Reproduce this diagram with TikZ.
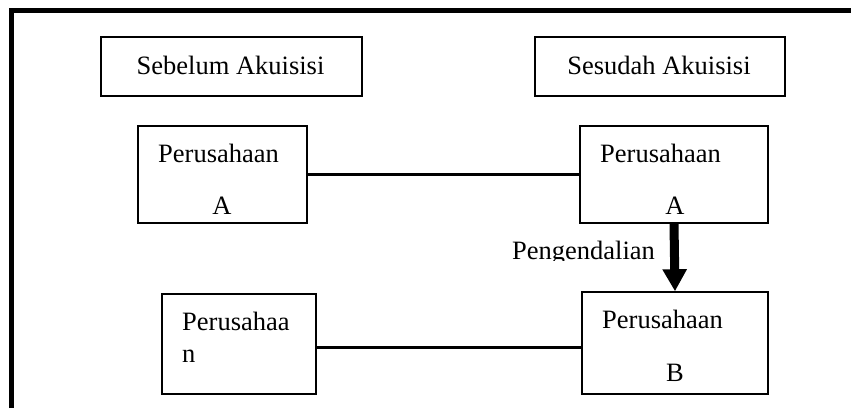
\documentclass[tikz,border=0pt]{standalone}
\usepackage{fontspec}
\setmainfont{Liberation Serif}
\usetikzlibrary{arrows.meta}
\tikzset{
  box/.style={draw=black, line width=1.4pt, inner sep=0pt, minimum width=#1},
  lbl/.style={inner sep=0pt, font=\fontsize{26.5}{30}\selectfont},
  link/.style={line width=3pt},
  frame/.style={line width=5pt}
}
\begin{document}
\begin{tikzpicture}[x=1pt,y=-1pt]
\useasboundingbox[fill=white] (0,0) rectangle (851,408);
% frame
\coordinate (f1) at (11,408);
\coordinate (f2) at (11,10.5);
\coordinate (f3) at (851,10.5);
\draw[frame] (f1) -- (f2) -- (f3);
% header boxes
\node[box=261pt, minimum height=59pt] (seb) at (231.5,66.5) {};
\node[lbl, anchor=base] (sebt) at (230.5,74) {Sebelum Akuisisi};
\node[box=250pt, minimum height=59pt] (ses) at (660,66.5) {};
\node[lbl, anchor=base] (sest) at (659,74) {Sesudah Akuisisi};
% company boxes
\node[box=169pt, minimum height=97pt] (la) at (222.5,174.5) {};
\node[lbl, anchor=base west] (lat) at (158,162) {Perusahaan};
\node[lbl, anchor=base] (laa) at (222,214) {A};
\node[box=188pt, minimum height=97pt] (ra) at (674,174.5) {};
\node[lbl, anchor=base west] (rat) at (600,162) {Perusahaan};
\node[lbl, anchor=base] (raa) at (675,214) {A};
\node[box=186pt, minimum height=102pt] (rb) at (675,343) {};
\node[lbl, anchor=base west] (rbt) at (602,328) {Perusahaan};
\node[lbl, anchor=base] (rbb) at (675,381) {B};
\node[box=154pt, minimum height=100pt] (lb) at (239,344) {};
\node[lbl, anchor=base west] (lbt) at (182,330) {Perusahaa};
\node[lbl, anchor=base west] (lbn) at (182,362) {n};
% connectors
\draw[link] (la.east) -- (ra.west);
\draw[link] ([yshift=-3pt]lb.east) -- ([yshift=-3pt]lb.east -| rb.west);
\draw[line width=9pt, -{Triangle[width=23pt,length=22pt]}] (ra.south) -- (rb.north);
\begin{scope}
\clip (500,230) rectangle (660,260);
\node[lbl, anchor=base west] (peng) at (512,259) {Pengendalian};
\end{scope}
\end{tikzpicture}
\end{document}
